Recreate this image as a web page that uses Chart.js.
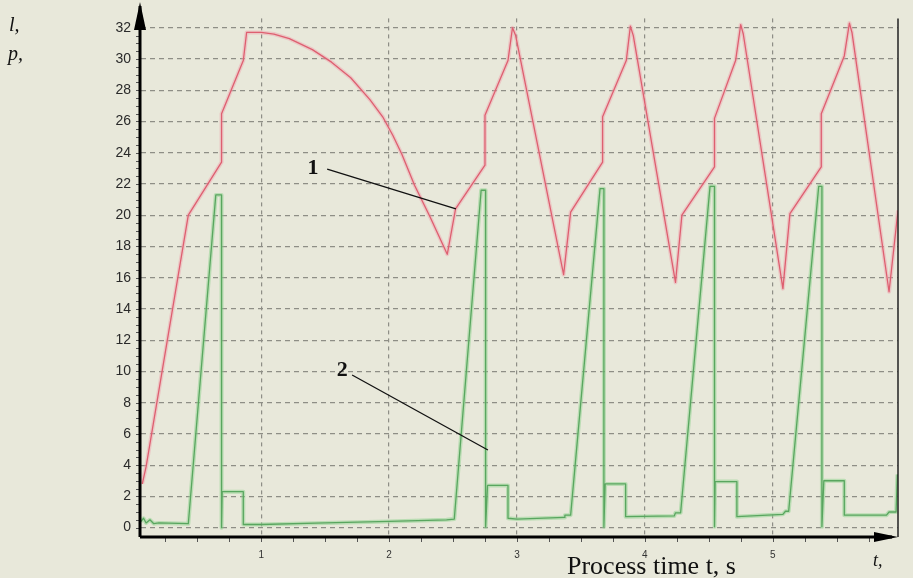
<!DOCTYPE html>
<html>
<head>
  <meta charset="UTF-8">
  <title>Process time chart</title>
  <script src="https://cdn.jsdelivr.net/npm/chart.js"></script>
  <style>
    body { margin: 0; background: #e8e8da; }
    #wrap { position: relative; width: 913px; height: 578px; }
  </style>
  <script>
// curve 1 (l) - red
var redT = [0.07, 0.10, 0.43, 0.69, 0.69, 0.86, 0.886, 1.0, 1.1, 1.22, 1.4, 1.55, 1.7, 1.85, 1.95, 2.03, 2.1, 2.2, 2.32, 2.455,
  2.52, 2.75, 2.75, 2.93, 2.965, 2.99, 3.365, 3.42, 3.67, 3.67, 3.855, 3.887, 3.91, 4.24, 4.29, 4.545, 4.545, 4.71, 4.75, 4.77,
  5.08, 5.135, 5.38, 5.38, 5.56, 5.6, 5.62, 5.91, 5.98];
var redV = [2.8, 3.9, 20.0, 23.4, 26.5, 29.9, 31.7, 31.7, 31.6, 31.3, 30.6, 29.8, 28.8, 27.4, 26.3, 25.1, 23.9, 21.9, 19.9, 17.5,
  20.4, 23.2, 26.4, 29.9, 32.0, 31.5, 16.2, 20.2, 23.4, 26.3, 29.9, 32.1, 31.5, 15.7, 20.0, 23.1, 26.2, 29.9, 32.2, 31.6,
  15.3, 20.1, 23.1, 26.5, 30.2, 32.3, 31.7, 15.1, 20.3];

// curve 2 (p) - green
var greenT = [0.06, 0.08, 0.10, 0.13, 0.16, 0.20, 0.43, 0.645, 0.69, 0.69, 0.695, 0.86, 0.86, 1.0, 1.5, 2.0, 2.45, 2.51,
  2.72, 2.755, 2.755, 2.77, 2.93, 2.93, 3.0, 3.37, 3.375, 3.42,
  3.65, 3.68, 3.68, 3.69, 3.85, 3.85, 4.23, 4.24, 4.28,
  4.51, 4.545, 4.545, 4.55, 4.72, 4.72, 5.08, 5.1, 5.125,
  5.36, 5.385, 5.385, 5.4, 5.56, 5.56, 5.89, 5.91, 5.965, 5.975];
var greenV = [0.4, 0.6, 0.3, 0.5, 0.25, 0.3, 0.25, 21.3, 21.3, 0, 2.3, 2.3, 0.2, 0.2, 0.3, 0.4, 0.5, 0.55,
  21.6, 21.6, 0.05, 2.7, 2.7, 0.6, 0.55, 0.65, 0.8, 0.8,
  21.7, 21.7, 0.05, 2.8, 2.8, 0.7, 0.75, 0.95, 0.95,
  21.85, 21.85, 0.05, 2.95, 2.95, 0.7, 0.85, 1.05, 1.05,
  21.85, 21.85, 0.05, 3.0, 3.0, 0.8, 0.8, 1.0, 1.0, 3.4];

var xTicks = [1, 2, 3, 4, 5];
var yTicks = [0, 2, 4, 6, 8, 10, 12, 14, 16, 18, 20, 22, 24, 26, 28, 30, 32];

// curve labels: text position, leader line start, leader line end (data units)
var labelText = ['1', '2'];
var labelAt = [[1.406, 23.0], [1.633, 10.1]];
var leadFrom = [[1.516, 22.95], [1.711, 9.77]];
var leadTo = [[2.523, 20.4], [2.773, 4.97]];

function pts(t, v) {
  return t.map(function (x, i) { return {x: x, y: v[i]}; });
}

var extras = {
  id: 'extras',
  afterDraw: function (chart) {
    var ctx = chart.ctx;
    var xs = chart.scales.x, ys = chart.scales.y;
    var a = chart.chartArea;
    ctx.save();

    // leader lines and numbers
    ctx.strokeStyle = '#111';
    ctx.lineWidth = 1.3;
    for (var i = 0; i < labelText.length; i++) {
      ctx.beginPath();
      ctx.moveTo(xs.getPixelForValue(leadFrom[i][0]), ys.getPixelForValue(leadFrom[i][1]));
      ctx.lineTo(xs.getPixelForValue(leadTo[i][0]), ys.getPixelForValue(leadTo[i][1]));
      ctx.stroke();
      ctx.fillStyle = '#111';
      ctx.font = 'bold 22px "Liberation Serif", serif';
      ctx.textAlign = 'center';
      ctx.textBaseline = 'middle';
      ctx.fillText(labelText[i], xs.getPixelForValue(labelAt[i][0]), ys.getPixelForValue(labelAt[i][1]));
    }

    // right border
    ctx.strokeStyle = '#222';
    ctx.lineWidth = 1.5;
    ctx.beginPath();
    ctx.moveTo(a.right, a.top);
    ctx.lineTo(a.right, a.bottom);
    ctx.stroke();

    // minor ticks
    ctx.strokeStyle = '#555';
    ctx.lineWidth = 1;
    ctx.beginPath();
    for (var v = 0; v <= 32; v += 0.5) {
      var py = Math.round(ys.getPixelForValue(v)) + 0.5;
      ctx.moveTo(a.left - 5, py);
      ctx.lineTo(a.left, py);
    }
    for (var t = 0.25; t < 6; t += 0.25) {
      var px = Math.round(xs.getPixelForValue(t)) + 0.5;
      if (px < a.left + 2 || px > a.right - 2) continue;
      ctx.moveTo(px, a.bottom);
      ctx.lineTo(px, a.bottom + 5);
    }
    ctx.stroke();

    // axes with arrows
    ctx.strokeStyle = '#000';
    ctx.fillStyle = '#000';
    ctx.lineWidth = 3;
    ctx.beginPath();
    ctx.moveTo(a.left - 1, a.bottom);
    ctx.lineTo(a.left - 1, 6);
    ctx.moveTo(a.left - 1, a.bottom);
    ctx.lineTo(a.right - 6, a.bottom);
    ctx.stroke();
    ctx.beginPath();
    ctx.moveTo(a.left - 1, 2);
    ctx.lineTo(a.left - 7, 30);
    ctx.lineTo(a.left + 5, 30);
    ctx.closePath();
    ctx.fill();
    ctx.beginPath();
    ctx.moveTo(a.right, a.bottom);
    ctx.lineTo(a.right - 24, a.bottom - 5);
    ctx.lineTo(a.right - 24, a.bottom + 5);
    ctx.closePath();
    ctx.fill();

    // axis names
    ctx.fillStyle = '#111';
    ctx.font = 'italic 20px "Liberation Serif", serif';
    ctx.textAlign = 'left';
    ctx.textBaseline = 'alphabetic';
    ctx.fillText('l,', 9, 31);
    ctx.fillText('p,', 8, 60);
    ctx.font = 'italic 18px "Liberation Serif", serif';
    ctx.fillText('t,', 873, 566);
    ctx.font = '26px "Liberation Serif", serif';
    ctx.fillText('Process time t, s', 567, 574);
    ctx.restore();
  }
};
  </script>
</head>
<body>
  <div id="wrap">
    <canvas id="chart" width="913" height="578"></canvas>
  </div>
  <script>
var ctx = document.getElementById('chart').getContext('2d');
new Chart(ctx, {
  type: 'scatter',
  data: {
    datasets: [
      {data: pts(redT, redV), showLine: true, borderColor: 'rgba(240,160,170,0.45)', borderWidth: 4, borderJoinStyle: 'round', pointRadius: 0},
      {data: pts(greenT, greenV), showLine: true, borderColor: 'rgba(140,210,140,0.5)', borderWidth: 4, borderJoinStyle: 'round', pointRadius: 0},
      {label: 'l', data: pts(redT, redV), showLine: true, borderColor: '#cf2a40', borderWidth: 1.3, borderJoinStyle: 'round', pointRadius: 0},
      {label: 'p', data: pts(greenT, greenV), showLine: true, borderColor: '#267a33', borderWidth: 1.3, borderJoinStyle: 'round', pointRadius: 0}
    ]
  },
  options: {
    responsive: false,
    animation: false,
    layout: {padding: {top: 11, right: 15, left: 0, bottom: 0}},
    plugins: {legend: {display: false}, tooltip: {enabled: false}},
    scales: {
      x: {
        type: 'linear',
        min: 0.06,
        max: 5.98,
        afterBuildTicks: function (s) { s.ticks = xTicks.map(function (v) { return {value: v}; }); },
        afterFit: function (s) { s.height = 41; },
        grid: {color: '#8e8e86', lineWidth: 1.2, drawTicks: false},
        border: {display: false, dash: [4, 4]},
        ticks: {padding: 12, color: '#333', font: {family: 'Liberation Sans', size: 10}}
      },
      y: {
        type: 'linear',
        min: -0.6,
        max: 32.6,
        afterBuildTicks: function (s) { s.ticks = yTicks.map(function (v) { return {value: v}; }); },
        afterFit: function (s) { s.width = 141; },
        grid: {color: '#8e8e86', lineWidth: 1.2, drawTicks: false},
        border: {display: false, dash: [5, 4]},
        ticks: {padding: 10, color: '#2a2a2a', font: {family: 'Liberation Sans', size: 14}}
      }
    }
  },
  plugins: [extras]
});
  </script>
</body>
</html>
